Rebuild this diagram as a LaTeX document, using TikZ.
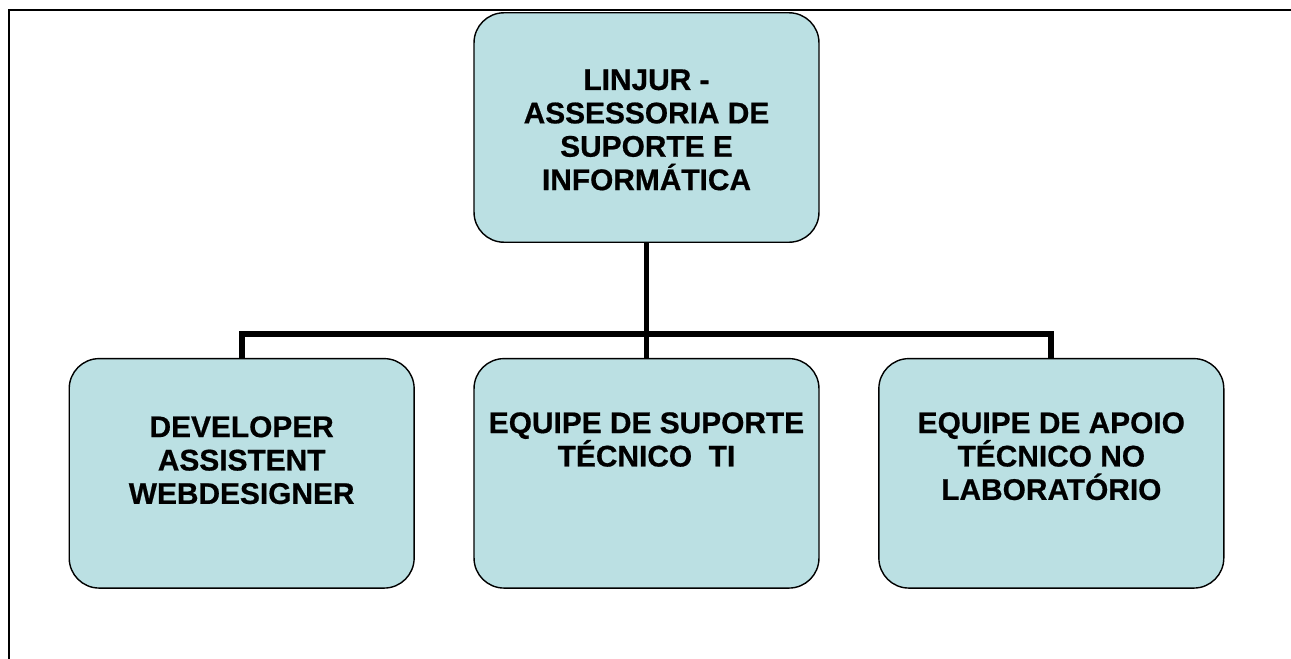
\documentclass[tikz,border=0pt]{standalone}
\usepackage{fontspec}
\setmainfont{Liberation Sans}[FakeBold=0.6]
\usetikzlibrary{positioning,calc}
\definecolor{boxblue}{RGB}{187,224,227}
\tikzset{
    block/.style = {draw, fill=boxblue, rectangle, rounded corners=0.6cm,
        line width=0.8pt,
        minimum height=4.59cm,
        minimum width=6.9cm},
    caption/.style = {inner sep=0pt, align=center,
        font=\fontsize{17pt}{19pt}\selectfont\bfseries},
    conn/.style = {line width=3.4pt},
    frame/.style = {line width=1.15pt},
}

\begin{document}
\begin{tikzpicture}[x=0.02cm, y=-0.02cm, node distance=1.17cm]
		\useasboundingbox (0,0) rectangle (1291,659);
		% outer frame (top and left only)
		\draw [frame] (1291,10) -- (9,10) -- (9,659);

		% head unit
		\node [block] (head) at (646.5,127.5) {};
		\node [caption, below=1.14cm of head.north] (headtxt)
			{LINJUR -\\ASSESSORIA DE\\SUPORTE E\\INFORMÁTICA};

		% teams
		\node [block, below=2.3cm of head] (suporte) {};
		\node [block, left=of suporte] (dev) {};
		\node [block, right=of suporte] (apoio) {};

		\node [caption, below=1.16cm of dev.north] (devtxt)
			{DEVELOPER\\ASSISTENT\\WEBDESIGNER};
		\node [caption, below=1.08cm of suporte.north] (suportetxt)
			{EQUIPE DE SUPORTE\\TÉCNICO\ \ TI};
		\node [caption, below=1.08cm of apoio.north] (apoiotxt)
			{EQUIPE DE APOIO\\TÉCNICO NO\\LABORATÓRIO};

		%% connecting lines
		\coordinate (bus) at (646.5,334);
		\draw [conn] (head.south) -- (bus);
		\draw [conn] (bus) -- (suporte.north);
		\draw [conn] (dev.north) |- (apoio.north |- bus) -- (apoio.north);
	\end{tikzpicture}
\end{document}
